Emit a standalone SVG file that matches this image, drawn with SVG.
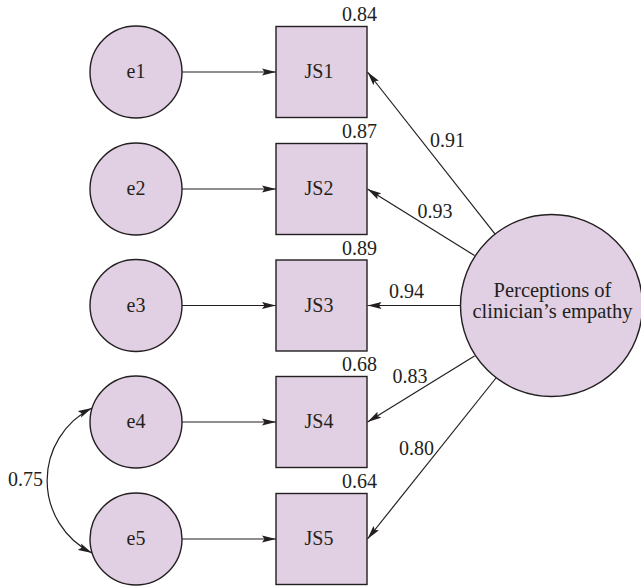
<svg xmlns="http://www.w3.org/2000/svg" width="641" height="587" viewBox="0 0 641 587">
<style>
.n{fill:#e1cfe3;stroke:#231f20;stroke-width:1.4}
.t{font-family:'Liberation Serif',Tinos,'Times New Roman',Times,serif;font-size:20px;fill:#231f20}
.c{text-anchor:middle}
.e{text-anchor:end}
.l{stroke:#231f20;stroke-width:1.2;fill:none}
</style>
<defs>
<marker id="ah" markerUnits="userSpaceOnUse" markerWidth="15" markerHeight="8" refX="14" refY="4" orient="auto-start-reverse" viewBox="0 0 15 8">
<path d="M0,0.5 L14,4 L0,7.5 L2.5,4 z" fill="#231f20"/>
</marker>
</defs>
<rect width="641" height="587" fill="#ffffff"/>
<g id="connectors">
<line class="l" x1="182" y1="72" x2="276" y2="72" marker-end="url(#ah)"/>
<line class="l" x1="182" y1="189" x2="276" y2="189" marker-end="url(#ah)"/>
<line class="l" x1="182" y1="305.5" x2="276" y2="305.5" marker-end="url(#ah)"/>
<line class="l" x1="182" y1="422" x2="276" y2="422" marker-end="url(#ah)"/>
<line class="l" x1="182" y1="539" x2="276" y2="539" marker-end="url(#ah)"/>
<line class="l" x1="495.1" y1="234.1" x2="367.5" y2="72" marker-end="url(#ah)"/>
<line class="l" x1="474.5" y1="255.5" x2="367.5" y2="189" marker-end="url(#ah)"/>
<line class="l" x1="460.5" y1="305.5" x2="367.5" y2="305.5" marker-end="url(#ah)"/>
<line class="l" x1="474.5" y1="356" x2="367.5" y2="422" marker-end="url(#ah)"/>
<line class="l" x1="496" y1="378" x2="367.5" y2="539" marker-end="url(#ah)"/>
<path class="l" d="M92,408 A81,81 0 0 0 92,553" marker-start="url(#ah)" marker-end="url(#ah)"/>
<text class="t" x="430" y="147">0.91</text>
<text class="t" x="417.5" y="218">0.93</text>
<text class="t" x="389" y="298">0.94</text>
<text class="t" x="392.5" y="383">0.83</text>
<text class="t" x="399" y="455">0.80</text>
<text class="t" x="8" y="486">0.75</text>
</g>
<g id="e1"><circle class="n" cx="136" cy="72" r="46"/><text class="t c" x="136" y="78">e1</text></g>
<g id="e2"><circle class="n" cx="136" cy="189" r="46"/><text class="t c" x="136" y="195">e2</text></g>
<g id="e3"><circle class="n" cx="136" cy="305.5" r="46"/><text class="t c" x="136" y="311.5">e3</text></g>
<g id="e4"><circle class="n" cx="136" cy="422" r="46"/><text class="t c" x="136" y="428">e4</text></g>
<g id="e5"><circle class="n" cx="136" cy="539" r="46"/><text class="t c" x="136" y="545">e5</text></g>
<g id="JS1"><rect class="n" x="276" y="26.5" width="91" height="91"/><text class="t c" x="319" y="78">JS1</text><text class="t e" x="377" y="21">0.84</text></g>
<g id="JS2"><rect class="n" x="276" y="143.5" width="91" height="91"/><text class="t c" x="319" y="195">JS2</text><text class="t e" x="377" y="138">0.87</text></g>
<g id="JS3"><rect class="n" x="276" y="260" width="91" height="91"/><text class="t c" x="319" y="311.5">JS3</text><text class="t e" x="377" y="254.5">0.89</text></g>
<g id="JS4"><rect class="n" x="276" y="376.5" width="91" height="91"/><text class="t c" x="319" y="428">JS4</text><text class="t e" x="377" y="371">0.68</text></g>
<g id="JS5"><rect class="n" x="276" y="493.5" width="91" height="91"/><text class="t c" x="319" y="545">JS5</text><text class="t e" x="377" y="488">0.64</text></g>
<g id="empathy"><circle class="n" cx="551.5" cy="305.5" r="91"/>
<text class="t c" x="552.5" y="297" style="font-size:20.5px">Perceptions of</text>
<text class="t c" x="552.5" y="318" style="font-size:20.5px">clinician’s empathy</text></g>
</svg>
